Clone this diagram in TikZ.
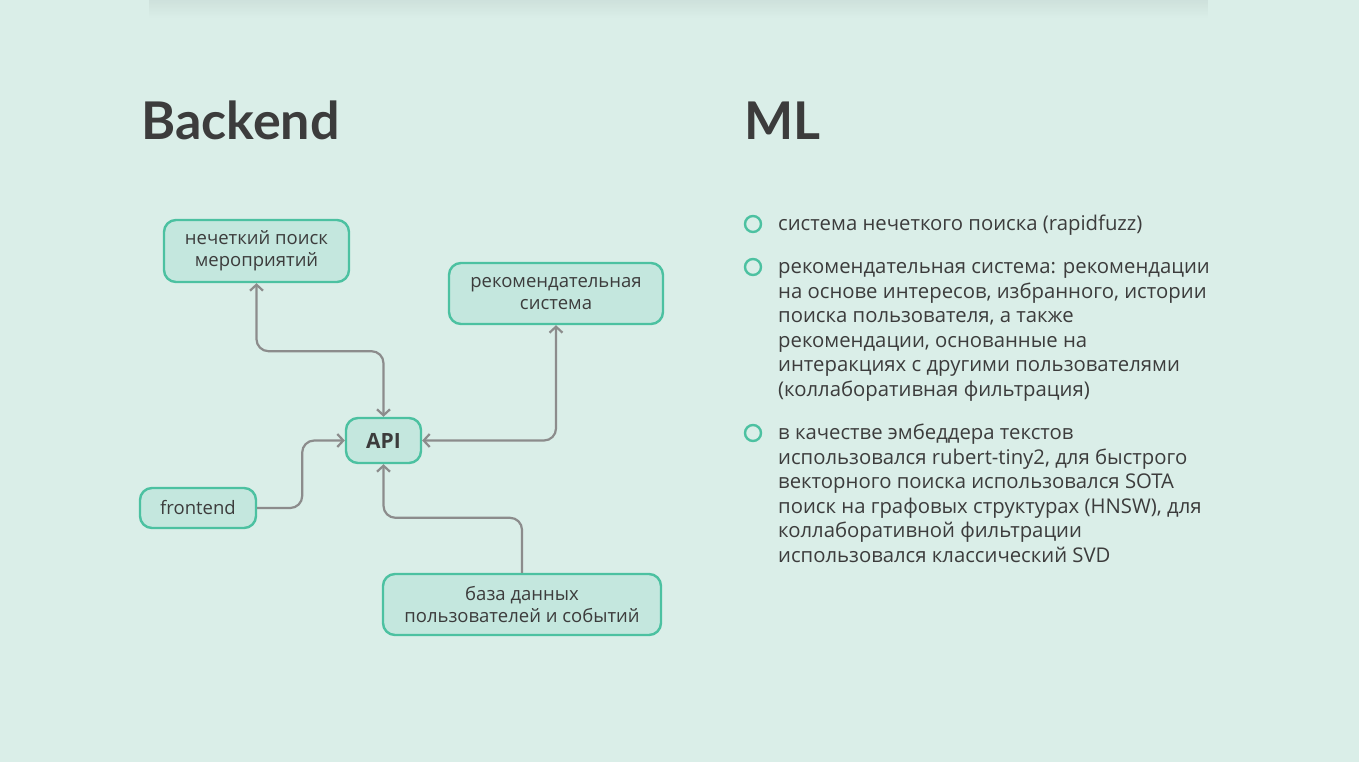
\documentclass[tikz,border=0pt]{standalone}
\usepackage{fontspec}
\setmainfont{Open Sans}
\newfontfamily\headfont{Lato}
\usetikzlibrary{arrows.meta,fadings}
\definecolor{bg}{HTML}{DAEEE8}
\definecolor{boxfill}{HTML}{C4E7DE}
\definecolor{boxline}{HTML}{4CC1A1}
\definecolor{wire}{HTML}{8C8C8C}
\definecolor{ink}{HTML}{3C3C3C}
\tikzset{
  box/.style={draw=boxline, fill=boxfill, line width=2.4pt, rounded corners=12pt,
    align=center, text=ink, font=\fontsize{18.5}{22}\selectfont, inner sep=0pt},
  conn/.style={draw=wire, line width=2.2pt, rounded corners=12pt,
    arrows={Straight Barb[length=6pt,width=13pt,line width=2.2pt]-Straight Barb[length=6pt,width=13pt,line width=2.2pt]}},
  oneway/.style={draw=wire, line width=2.2pt, rounded corners=12pt,
    -{Straight Barb[length=6pt,width=13pt,line width=2.2pt]}},
  title/.style={anchor=base west, text=ink, font=\headfont\fontsize{52}{60}\selectfont\bfseries, inner sep=0pt},
  bullet/.style={circle, draw=boxline, line width=2.4pt, minimum size=16pt, inner sep=0pt},
  item/.style={anchor=base west, align=left, text=ink, inner sep=0pt,
    font=\fontsize{20.3}{24.5}\selectfont},
}
\begin{document}
\begin{tikzpicture}[x=1pt,y=-1pt]
  % canvas
  \fill[bg] (0,0) rectangle (1359,762);
  \useasboundingbox (0,0) rectangle (1359,762);
  % soft shadow along the top edge
  \fill[black, opacity=0.05, path fading=south] (150,0) rectangle (1210,18);

  % section titles
  \node[title] (tback) at (141,140) {Backend};
  \node[title] (tml) at (744,140) {ML};

  % backend components
  \node[box, minimum width=185pt, minimum height=62pt] (fuzzy) at (256.5,251) {нечеткий поиск\\мероприятий};
  \node[box, minimum width=214pt, minimum height=61pt] (rec) at (556,293.5) {рекомендательная\\система};
  \node[box, minimum width=75pt, minimum height=45pt, font=\fontsize{21}{24}\selectfont\bfseries] (api) at (383.5,440.5) {API};
  \node[box, minimum width=116pt, minimum height=40pt] (front) at (198,508) {frontend};
  \node[box, minimum width=278pt, minimum height=61pt] (db) at (522,604.5) {база данных\\пользователей и событий};

  % connectors
  \draw[conn] (fuzzy.south) -- ++(0,68) -| (api.north);
  \draw[conn] (rec.south) |- (api.east);
  \draw[oneway] (front.east) -- ++(45,0) |- (api.west);
  \draw[oneway] (db.north) -- ++(0,-55) -| (api.south);

  % ML list (each text is placed by the baseline of its last line)
  \node[bullet] (b1) at (753,224) {};
  \node[bullet] (b2) at (753,267) {};
  \node[bullet] (b3) at (753,433) {};
  \node[item] (i1) at (778,230.5) {система нечеткого поиска (rapidfuzz)};
  \node[item] (i2) at (778,396) {рекомендательная система: рекомендации\\на основе интересов, избранного, истории\\поиска пользователя, а также\\рекомендации, основанные на\\интеракциях с другими пользователями\\(коллаборативная фильтрация)};
  \node[item] (i3) at (778,562) {в качестве эмбеддера текстов\\использовался rubert-tiny2, для быстрого\\векторного поиска использовался SOTA\\поиск на графовых структурах (HNSW), для\\коллаборативной фильтрации\\использовался классический SVD};
\end{tikzpicture}
\end{document}
